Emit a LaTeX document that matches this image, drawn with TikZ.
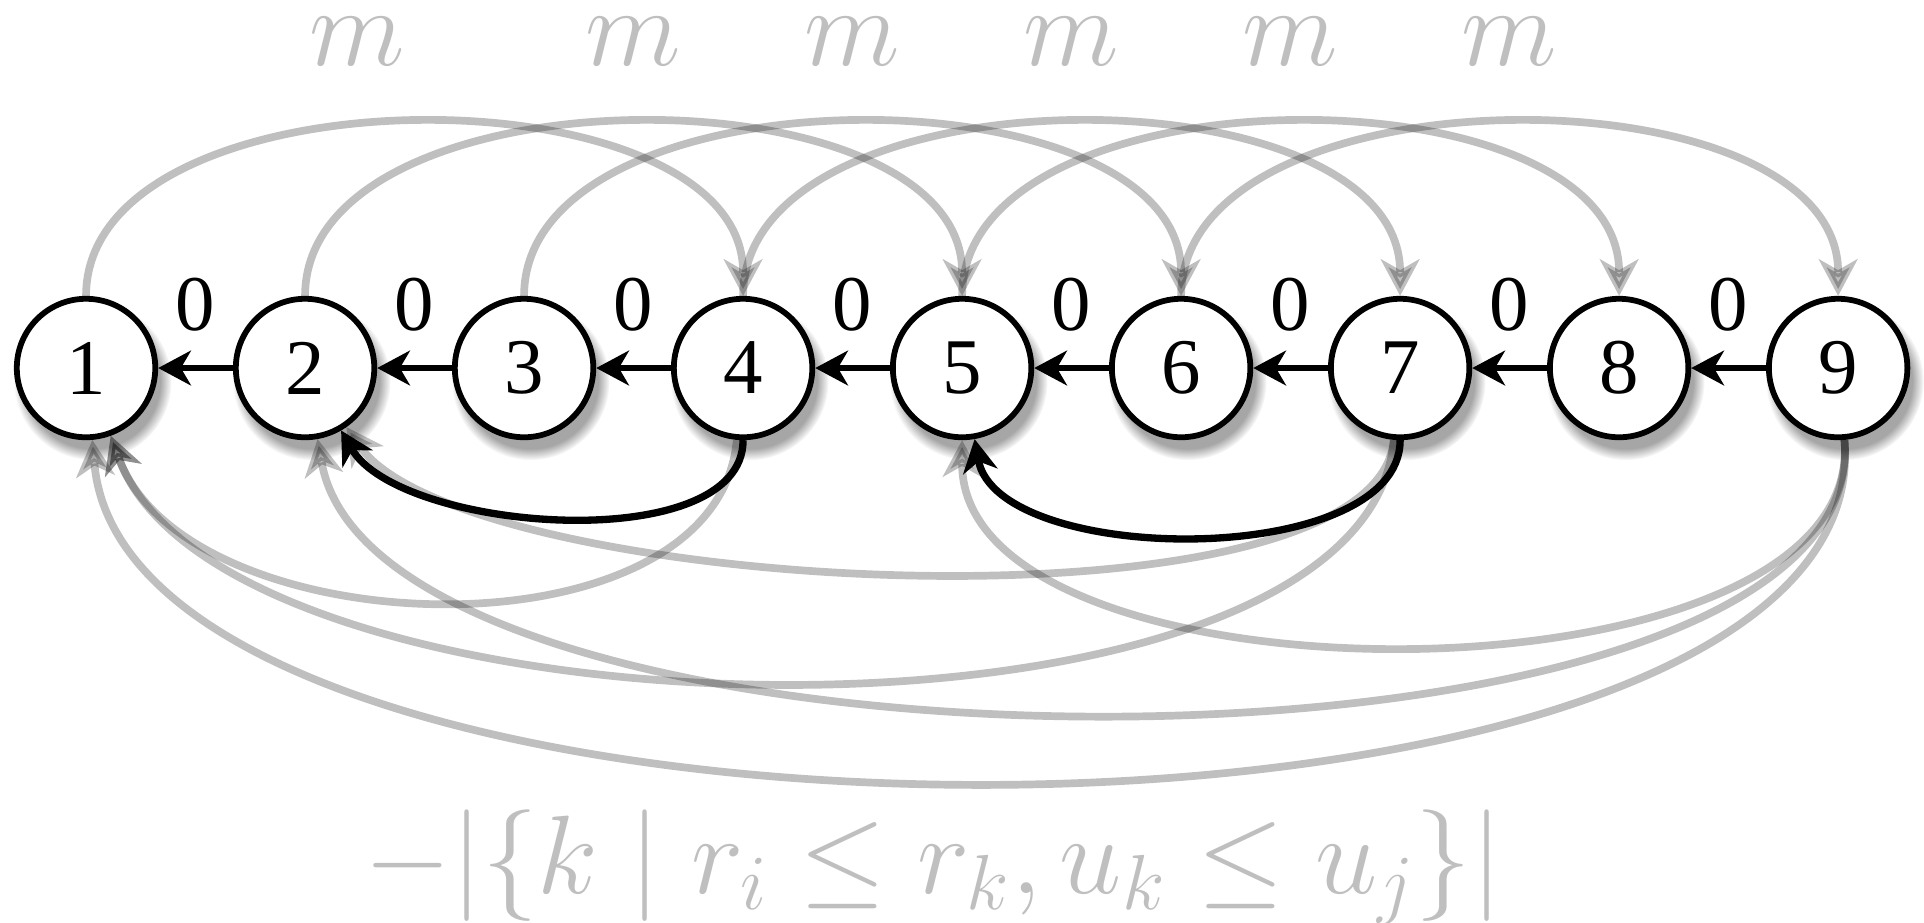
\RequirePackage{fix-cm}
\documentclass[tikz,border=0pt]{standalone}
\usepackage[no-math]{fontspec}
\setmainfont{Liberation Serif}
\usetikzlibrary{arrows.meta, positioning, shadows, fadings}

\begin{document}
\begin{tikzpicture}[>={Stealth[length=8.5pt, width=9pt, inset=2.6pt]},
    node distance=0.683cm,
    vertex/.style={draw, circle, line width=1.5pt, fill=white, minimum size=1.265cm,
                   inner sep=0pt, font=\rmfamily\fontsize{20.5}{20.5}\selectfont,
                   circular drop shadow={shadow xshift=1.5pt, shadow yshift=-3pt,
                                         shadow scale=1.14, opacity=0.7}},
    zeroarrow/.style={->, line width=1.8pt},
    zerolabel/.style={above=0.3cm, inner sep=0pt, font=\rmfamily\fontsize{20.5}{20.5}\selectfont},
    backarc/.style={->, line width=1.9pt},
    grayarc/.style={-{Stealth[length=9.5pt, width=10pt, inset=2.8pt]}, line width=2pt,
                    draw=black, opacity=0.25},
    mlabel/.style={above=0.49cm, inner sep=0pt, opacity=1, text=black!25,
                   font=\fontsize{29}{29}\selectfont}]
  \useasboundingbox (-0.786,-5.062) rectangle (16.79,3.362);

  % Chain of vertices
  \node[vertex] (n1) at (0,0) {1};
  \node[vertex, right=of n1] (n2) {2};
  \node[vertex, right=of n2] (n3) {3};
  \node[vertex, right=of n3] (n4) {4};
  \node[vertex, right=of n4] (n5) {5};
  \node[vertex, right=of n5] (n6) {6};
  \node[vertex, right=of n6] (n7) {7};
  \node[vertex, right=of n7] (n8) {8};
  \node[vertex, right=of n8] (n9) {9};

  % Weight m arcs above
  \draw[grayarc] (n1) to[out=90, in=90, looseness=0.9] node[mlabel, xshift=-0.52cm] {$m$} (n4);
  \draw[grayarc] (n2) to[out=90, in=90, looseness=0.9] node[mlabel] {$m$} (n5);
  \draw[grayarc] (n3) to[out=90, in=90, looseness=0.9] node[mlabel] {$m$} (n6);
  \draw[grayarc] (n4) to[out=90, in=90, looseness=0.9] node[mlabel] {$m$} (n7);
  \draw[grayarc] (n5) to[out=90, in=90, looseness=0.9] node[mlabel] {$m$} (n8);
  \draw[grayarc] (n6) to[out=90, in=90, looseness=0.9] node[mlabel] {$m$} (n9);

  % Negative arcs below
  \draw[grayarc] (n4) to[out=-95, in=-70, looseness=0.92] (n1);
  \draw[grayarc] (n7) to[out=-95, in=-70, looseness=0.67] (n1);
  \draw[grayarc] (n9) to[out=-85, in=-85, looseness=0.67] (n1);
  \draw[grayarc] (n7) to[out=-95, in=-55, looseness=0.5] (n2);
  \draw[grayarc] (n9) to[out=-85, in=-80, looseness=0.62] (n2);
  \draw[grayarc] (n9) to[out=-85, in=-90, looseness=0.8] (n5);

  % Zero arcs
  \draw[zeroarrow] (n2) -- node[zerolabel] {0} (n1);
  \draw[zeroarrow] (n3) -- node[zerolabel] {0} (n2);
  \draw[zeroarrow] (n4) -- node[zerolabel] {0} (n3);
  \draw[zeroarrow] (n5) -- node[zerolabel] {0} (n4);
  \draw[zeroarrow] (n6) -- node[zerolabel] {0} (n5);
  \draw[zeroarrow] (n7) -- node[zerolabel] {0} (n6);
  \draw[zeroarrow] (n8) -- node[zerolabel] {0} (n7);
  \draw[zeroarrow] (n9) -- node[zerolabel] {0} (n8);
  \draw[backarc] (n4) to[out=-90, in=-60, looseness=0.75] (n2);
  \draw[backarc] (n7) to[out=-90, in=-80, looseness=0.78] (n5);

  % Weight of the negative arcs
  \node[text=black!25, font=\fontsize{29}{29}\selectfont] (cost) at (7.74,-4.56)
    {$-|\{k \mid r_i \leq r_k, u_k \leq u_j\}|$};
\end{tikzpicture}
\end{document}
